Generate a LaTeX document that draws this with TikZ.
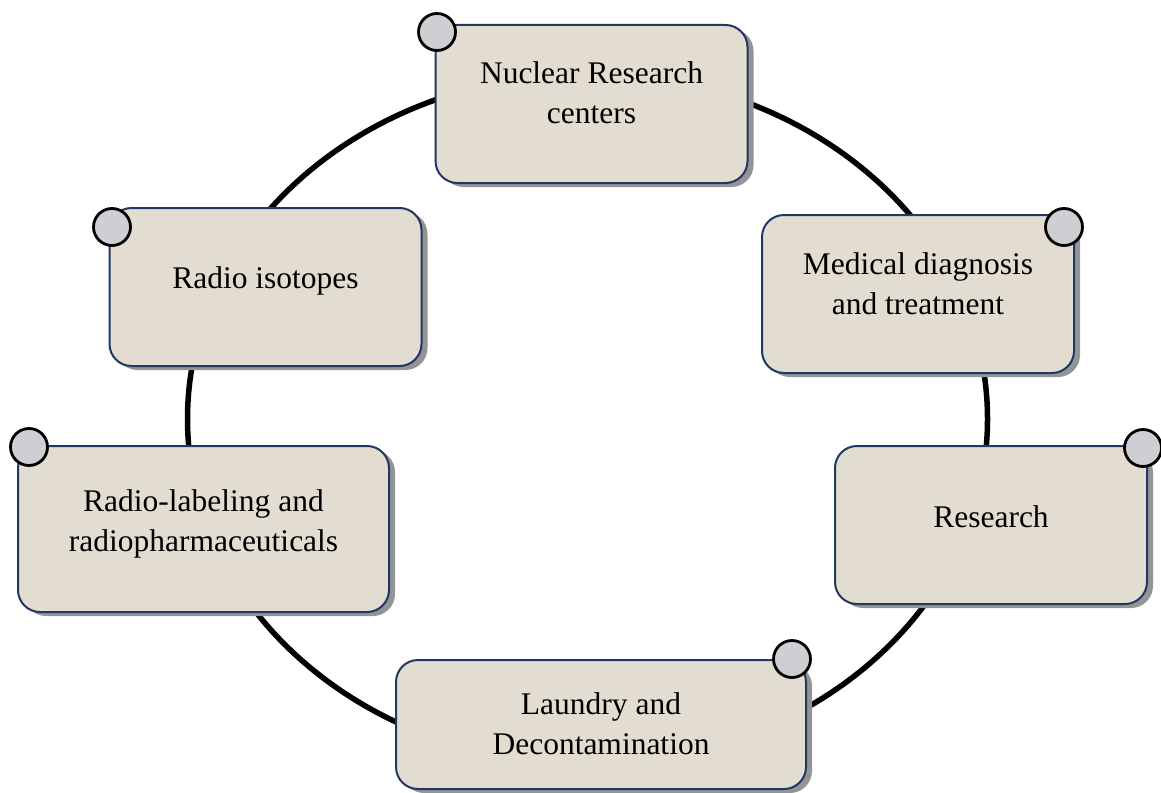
\documentclass[tikz,border=0pt]{standalone}
\usepackage{fontspec}
\setmainfont{Liberation Serif}
\usepackage{tikz}
\usetikzlibrary{shapes,shadows}
\definecolor{boxfill}{RGB}{227,221,209}
\definecolor{boxline}{RGB}{31,56,100}
\definecolor{dotfill}{RGB}{207,206,211}

\begin{document}
\begin{tikzpicture}[x=1pt, y=-1pt,
  box/.style={draw=boxline, line width=2pt, fill=boxfill, rounded corners=22pt,
    minimum width=312pt, minimum height=158pt,
    drop shadow={shadow xshift=6pt, shadow yshift=-4pt, fill=black!42, opacity=1}},
  boxtext/.style={anchor=north, inner sep=0pt, align=center, font=\fontsize{31.5}{40}\selectfont},
  dot/.style={circle, draw=black, line width=2.8pt, fill=dotfill, minimum size=37pt, inner sep=0pt}]
\useasboundingbox (0,0) rectangle (1161,792);

\draw [black, line width=5.5pt] (587.5,419) ellipse [x radius=400, y radius=345];

\node [box] (nrc) at (591.5,104) {};
\node [box] (med) at (918,294) {};
\node [box] (res) at (991,525) {};
\node [box, minimum width=410pt, minimum height=129pt] (laundry) at (601,724.5) {};
\node [box, minimum width=371pt, minimum height=166pt] (label) at (203.5,529) {};
\node [box] (iso) at (265.5,287) {};

\node [boxtext] (nrc-text) at ([yshift=-37pt]nrc.north) {Nuclear Research\\centers};
\node [boxtext] (med-text) at ([yshift=-38pt]med.north) {Medical diagnosis\\and treatment};
\node [boxtext] (res-text) at ([yshift=-60pt]res.north) {Research};
\node [boxtext] (laundry-text) at ([yshift=-33pt]laundry.north) {Laundry and\\Decontamination};
\node [boxtext] (label-text) at ([yshift=-44pt]label.north) {Radio-labeling and\\radiopharmaceuticals};
\node [boxtext] (iso-text) at ([yshift=-59pt]iso.north) {Radio isotopes};

\node [dot] (nrc-dot) at (437,32) {};
\node [dot] (med-dot) at (1064,227) {};
\node [dot] (res-dot) at (1143,448) {};
\node [dot] (laundry-dot) at (792,659) {};
\node [dot] (label-dot) at (29,447) {};
\node [dot] (iso-dot) at (112,227) {};

\end{tikzpicture}
\end{document}
